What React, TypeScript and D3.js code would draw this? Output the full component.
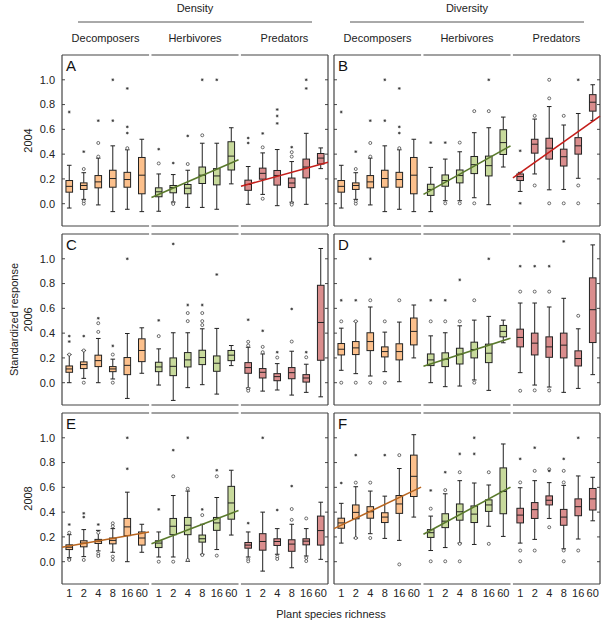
import React from "react";
import * as d3 from "d3";

type Stat = [number, number, number, number, number]; // lo, q1, median, q3, hi

const measures = ["Density", "Diversity"];
const groups = ["Decomposers", "Herbivores", "Predators"];
const richness = ["1", "2", "4", "8", "16", "60"];
const years = ["2004", "2006", "2008"];
const panelLetters = ["A", "B", "C", "D", "E", "F"];
const yTicks = [0, 0.2, 0.4, 0.6, 0.8, 1.0];

// ---------- Panel A (2004, Density)
const statsA: Stat[] = [
  [-0.035, 0.093, 0.14, 0.187, 0.31], [0.035, 0.115, 0.147, 0.168, 0.25], [-0.01, 0.128, 0.176, 0.227, 0.368],
  [-0.064, 0.133, 0.203, 0.27, 0.467], [-0.045, 0.133, 0.195, 0.253, 0.435], [-0.064, 0.08, 0.23, 0.373, 0.52],
  [-0.061, 0.056, 0.096, 0.128, 0.24], [0.013, 0.088, 0.13, 0.147, 0.235], [-0.03, 0.08, 0.125, 0.155, 0.27],
  [-0.03, 0.163, 0.23, 0.296, 0.488], [-0.045, 0.152, 0.224, 0.283, 0.488], [0.16, 0.272, 0.384, 0.5, 0.613],
  [-0.005, 0.108, 0.155, 0.19, 0.3], [0.075, 0.198, 0.245, 0.287, 0.41], [-0.016, 0.15, 0.228, 0.268, 0.437],
  [0.012, 0.13, 0.167, 0.207, 0.34], [-0.005, 0.208, 0.296, 0.36, 0.568], [0.283, 0.32, 0.368, 0.405, 0.45],
];
const circlesA: number[][] = [
  [], [0.02, 0.0, 0.28], [0.38, 0.49], [], [0.448], [],
  [0.325], [0.008, -0.002], [0.32], [0.552], [], [],
  [], [0.455, 0.04], [], [0.38, 0.416, 0.003, -0.008], [], [],
];
const starsA: number[][] = [
  [0.74], [0.42], [0.67], [0.67, 1.0], [0.62, 0.57, 0.93], [],
  [0.44], [0.328], [0.547], [1.0], [1.0], [],
  [0.53, 0.49], [0.567], [0.76, 0.708, 0.648], [0.456], [1.0, 0.93], [],
];
const trendsA: ([number, number] | null)[] = [null, [0.05, 0.355], [0.14, 0.335]];

// ---------- Panel B (2004, Diversity)
const statsB: Stat[] = [
  [-0.035, 0.093, 0.14, 0.187, 0.31], [0.035, 0.115, 0.147, 0.168, 0.25], [-0.01, 0.128, 0.176, 0.227, 0.368],
  [-0.064, 0.133, 0.203, 0.27, 0.467], [-0.045, 0.133, 0.195, 0.253, 0.435], [-0.064, 0.08, 0.23, 0.373, 0.52],
  [-0.064, 0.067, 0.115, 0.157, 0.293], [0.024, 0.141, 0.187, 0.232, 0.36], [0.024, 0.168, 0.227, 0.272, 0.419],
  [0.048, 0.243, 0.315, 0.381, 0.573], [-0.008, 0.224, 0.307, 0.384, 0.613], [0.296, 0.397, 0.493, 0.597, 0.699],
  [0.099, 0.187, 0.219, 0.24, 0.253], [0.24, 0.408, 0.48, 0.52, 0.683], [0.112, 0.36, 0.448, 0.528, 0.784],
  [0.115, 0.304, 0.379, 0.44, 0.635], [0.205, 0.4, 0.467, 0.533, 0.728], [0.672, 0.747, 0.819, 0.88, 0.96],
];
const circlesB: number[][] = [
  [], [0.02, 0.0, 0.28], [0.38, 0.49], [], [0.448], [],
  [], [0.003], [0.003, 0.493], [0.003, 0.747], [0.747], [],
  [], [0.709, 0.147], [0.85, 0.003, 1.0], [0.709, 0.003], [0.147, 0.003], [],
];
const starsB: number[][] = [
  [0.74], [0.42], [0.67], [0.67, 1.0], [0.62, 0.57, 0.93], [],
  [0.493], [0.493], [], [], [1.0], [],
  [0.427, 0.003], [], [], [], [1.0], [],
];
const trendsB: ([number, number] | null)[] = [null, [0.075, 0.467], [0.208, 0.707]];

// ---------- Panel C (2006, Density)
const statsC: Stat[] = [
  [0.0, 0.084, 0.111, 0.135, 0.227], [0.035, 0.114, 0.146, 0.168, 0.26], [0.0, 0.13, 0.178, 0.222, 0.357],
  [0.03, 0.089, 0.111, 0.13, 0.19], [-0.127, 0.065, 0.14, 0.203, 0.397], [0.076, 0.17, 0.26, 0.354, 0.443],
  [-0.019, 0.089, 0.127, 0.165, 0.273], [-0.143, 0.057, 0.132, 0.2, 0.403], [-0.04, 0.127, 0.184, 0.243, 0.403],
  [-0.016, 0.146, 0.203, 0.262, 0.435], [-0.092, 0.092, 0.157, 0.216, 0.438], [0.138, 0.178, 0.222, 0.26, 0.3],
  [-0.043, 0.076, 0.122, 0.162, 0.286], [-0.068, 0.038, 0.084, 0.114, 0.232], [-0.059, 0.016, 0.049, 0.073, 0.154],
  [-0.1, 0.032, 0.081, 0.122, 0.254], [-0.078, 0.005, 0.038, 0.065, 0.149], [-0.114, 0.181, 0.486, 0.786, 1.083],
];
const circlesC: number[][] = [
  [0.227], [0.0, 0.26], [0.41, 0.48], [0.0, 0.227], [], [],
  [0.376], [], [0.497, 0.562], [0.465, 0.497, 0.562], [], [],
  [0.33, 0.3, -0.049, -0.065], [0.289, 0.246], [0.203], [0.332], [0.205], [],
];
const starsC: number[][] = [
  [0.376, 0.332], [0.376], [0.52], [0.297], [1.0], [],
  [0.503], [1.12], [0.627], [0.627], [0.873], [],
  [0.508], [0.419], [0.246], [0.595], [0.246], [],
];
const trendsC: ([number, number] | null)[] = [null, null, null];

// ---------- Panel D (2006, Diversity)
const statsD: Stat[] = [
  [0.1, 0.224, 0.27, 0.316, 0.44], [0.073, 0.227, 0.281, 0.332, 0.495], [0.054, 0.259, 0.332, 0.403, 0.611],
  [0.089, 0.208, 0.251, 0.289, 0.408], [0.008, 0.184, 0.251, 0.314, 0.489], [0.2, 0.305, 0.414, 0.522, 0.627],
  [0.0, 0.138, 0.184, 0.232, 0.378], [-0.032, 0.13, 0.189, 0.241, 0.403], [-0.027, 0.151, 0.23, 0.278, 0.459],
  [0.022, 0.2, 0.268, 0.327, 0.505], [-0.062, 0.162, 0.238, 0.311, 0.535], [0.322, 0.37, 0.414, 0.462, 0.505],
  [0.081, 0.289, 0.365, 0.432, 0.643], [-0.019, 0.224, 0.319, 0.4, 0.643], [-0.035, 0.205, 0.289, 0.37, 0.611],
  [-0.078, 0.2, 0.303, 0.4, 0.681], [-0.046, 0.135, 0.195, 0.257, 0.435], [0.065, 0.324, 0.589, 0.846, 1.112],
];
const circlesD: number[][] = [
  [0.495, 0.0], [0.495, 0.0], [0.0, 0.665], [0.495, 0.0], [0.665], [],
  [0.495], [0.495], [0.495], [0.665, 0.0], [], [],
  [0.735, -0.065], [0.735, -0.062], [0.735, -0.062], [], [0.54], [],
];
const starsD: number[][] = [
  [0.665], [0.665], [1.0], [], [], [],
  [0.665], [0.665], [0.83], [], [1.0], [],
  [0.94], [0.94], [0.94], [1.14], [], [],
];
const trendsD: ([number, number] | null)[] = [null, [0.132, 0.359], null];

// ---------- Panel E (2008, Density)
const statsE: Stat[] = [
  [0.033, 0.098, 0.117, 0.136, 0.218], [0.041, 0.12, 0.15, 0.169, 0.259], [0.087, 0.147, 0.166, 0.18, 0.253],
  [0.076, 0.144, 0.172, 0.191, 0.267], [0.0, 0.21, 0.281, 0.349, 0.561], [0.076, 0.134, 0.191, 0.24, 0.302],
  [0.038, 0.114, 0.15, 0.169, 0.24], [0.038, 0.218, 0.286, 0.349, 0.534], [0.003, 0.218, 0.294, 0.357, 0.57],
  [0.06, 0.158, 0.185, 0.215, 0.302], [0.098, 0.253, 0.313, 0.357, 0.518], [0.215, 0.343, 0.474, 0.608, 0.738],
  [0.038, 0.109, 0.134, 0.155, 0.24], [-0.076, 0.093, 0.163, 0.226, 0.4], [0.06, 0.131, 0.163, 0.185, 0.267],
  [-0.049, 0.084, 0.142, 0.177, 0.302], [0.046, 0.136, 0.166, 0.185, 0.267], [0.019, 0.134, 0.251, 0.368, 0.48],
];
const circlesE: number[][] = [
  [0.234, 0.022, 0.014], [0.014], [0.234, 0.063, 0.046], [0.31, 0.286, 0.041, 0.014], [], [],
  [0.0], [0.0, 0.689], [0.589, 0.014], [0.376, 0.054], [0.049, 0.689], [],
  [0.019, 0.003], [], [0.041, 0.022], [0.425, 0.338], [0.03, 0.005, 0.349], [],
];
const starsE: number[][] = [
  [0.3], [0.39, 0.36], [0.3], [], [0.75, 1.0], [],
  [0.422], [0.9], [1.0], [0.422], [0.738], [],
  [0.311], [1.0], [0.417], [0.61], [], [],
];
const trendsE: ([number, number] | null)[] = [[0.117, 0.24], [0.144, 0.414], null];

// ---------- Panel F (2008, Diversity)
const statsF: Stat[] = [
  [0.15, 0.27, 0.313, 0.351, 0.471], [0.191, 0.346, 0.398, 0.458, 0.605], [0.226, 0.351, 0.403, 0.444, 0.57],
  [0.188, 0.316, 0.36, 0.395, 0.529], [0.172, 0.39, 0.466, 0.534, 0.752], [0.36, 0.526, 0.689, 0.86, 1.025],
  [0.09, 0.196, 0.234, 0.259, 0.368], [0.114, 0.275, 0.327, 0.387, 0.548], [0.15, 0.335, 0.403, 0.466, 0.654],
  [0.139, 0.316, 0.384, 0.45, 0.635], [0.286, 0.406, 0.458, 0.499, 0.619], [0.204, 0.387, 0.567, 0.757, 0.95],
  [0.15, 0.313, 0.376, 0.431, 0.597], [0.18, 0.349, 0.42, 0.477, 0.654], [0.349, 0.458, 0.496, 0.531, 0.638],
  [0.104, 0.294, 0.36, 0.422, 0.616], [0.183, 0.371, 0.444, 0.507, 0.692], [0.33, 0.417, 0.507, 0.591, 0.681],
];
const circlesF: number[][] = [
  [], [0.638, 0.191], [0.638, 0.191], [], [-0.022, 0.86], [],
  [0.428, 0.003], [0.578, 0.003], [0.722, 0.003, 0.144], [], [0.722, 0.144], [],
  [0.64, 0.09, 0.003], [0.733, 0.09], [0.278, 0.745], [0.733, 0.64, 0.09, 0.003], [0.09], [],
];
const starsF: number[][] = [
  [0.635], [0.86], [], [0.86], [], [],
  [0.575], [0.722], [0.87], [0.87, 1.0], [], [],
  [0.83], [0.92], [0.733], [0.83], [1.0], [],
];
const trendsF: ([number, number] | null)[] = [[0.267, 0.602], [0.221, 0.602], null];

const panels = [
  { stats: statsA, circles: circlesA, stars: starsA, trends: trendsA },
  { stats: statsB, circles: circlesB, stars: starsB, trends: trendsB },
  { stats: statsC, circles: circlesC, stars: starsC, trends: trendsC },
  { stats: statsD, circles: circlesD, stars: starsD, trends: trendsD },
  { stats: statsE, circles: circlesE, stars: starsE, trends: trendsE },
  { stats: statsF, circles: circlesF, stars: starsF, trends: trendsF },
];

const fills = ["#FCC08C", "#C8DA9C", "#DA8D8D"];
const trendColors = ["#B8651F", "#5A7A2C", "#C41E1A"];

const W = 603, H = 623;
const colX = [62, 334];
const PW = 266;
const rowY = [55, 234, 413];
const PH = 171;
const GAP = 2.4;
const GW = (PW - 2 * GAP) / 3;
const FONT = "'Liberation Sans', Arial, sans-serif";
const INK = "#222";

function Star({ x, y }: { x: number; y: number }) {
  const r = 1.4;
  return (
    <g stroke="#333" strokeWidth={0.7}>
      <line x1={x - r} x2={x + r} y1={y} y2={y} />
      <line x1={x} x2={x} y1={y - r} y2={y + r} />
      <line x1={x - r * 0.7} x2={x + r * 0.7} y1={y - r * 0.7} y2={y + r * 0.7} />
      <line x1={x - r * 0.7} x2={x + r * 0.7} y1={y + r * 0.7} y2={y - r * 0.7} />
    </g>
  );
}

function Panel({ idx }: { idx: number }) {
  const col = idx % 2;
  const row = Math.floor(idx / 2);
  const left = colX[col];
  const top = rowY[row];
  const right = left + PW;
  const bottom = top + PH;
  const y = d3.scaleLinear().domain([-0.18, 1.2]).range([bottom, top]);
  const p = panels[idx];
  const bandStart = (g: number) => left + g * (GW + GAP);
  const xs = groups.map((_, g) =>
    d3.scaleBand<string>().domain(richness).range([bandStart(g), bandStart(g) + GW]).padding(0)
  );
  const bw = 6.6, cw = 4.6;
  return (
    <g>
      {/* frame */}
      <line x1={left} x2={left} y1={top} y2={bottom} stroke="#333" strokeWidth={1.1} />
      <line x1={right} x2={right} y1={top} y2={bottom} stroke="#333" strokeWidth={1.1} />
      {groups.map((_, g) => {
        const x0 = g === 0 ? left : bandStart(g);
        const x1 = g === 2 ? right : bandStart(g) + GW;
        return (
          <g key={g} stroke="#444" strokeWidth={1.1}>
            <line x1={x0} x2={x1} y1={top} y2={top} />
            <line x1={x0} x2={x1} y1={bottom} y2={bottom} />
          </g>
        );
      })}
      {yTicks.map((t) => (
        <g key={t} stroke="#333" strokeWidth={0.9}>
          <line x1={left} x2={left + 3} y1={y(t)} y2={y(t)} />
          <line x1={right - 3} x2={right} y1={y(t)} y2={y(t)} />
        </g>
      ))}
      {col === 0 &&
        yTicks.map((t) => (
          <text key={t} x={left - 7} y={y(t)} dy="0.35em" textAnchor="end" fontSize={11} fontFamily={FONT} fill="#222">
            {t.toFixed(1)}
          </text>
        ))}
      <text x={left + 4} y={top + 16} fontSize={15} fontFamily={FONT} fill="#111">
        {panelLetters[idx]}
      </text>
      {/* boxes */}
      {p.stats.map((s, i) => {
        const g = Math.floor(i / 6);
        const k = i % 6;
        const sc = xs[g];
        const cx = (sc(richness[k]) as number) + sc.bandwidth() / 2;
        const [lo, q1, md, q3, hi] = s;
        return (
          <g key={i}>
            <g stroke={INK} strokeWidth={1}>
              <line x1={cx} x2={cx} y1={y(lo)} y2={y(q1)} />
              <line x1={cx} x2={cx} y1={y(q3)} y2={y(hi)} />
              <line x1={cx - cw / 2} x2={cx + cw / 2} y1={y(lo)} y2={y(lo)} />
              <line x1={cx - cw / 2} x2={cx + cw / 2} y1={y(hi)} y2={y(hi)} />
            </g>
            <rect x={cx - bw / 2} y={y(q3)} width={bw} height={Math.max(0.5, y(q1) - y(q3))} fill={fills[g]} stroke={INK} strokeWidth={1} />
            <line x1={cx - bw / 2} x2={cx + bw / 2} y1={y(md)} y2={y(md)} stroke={INK} strokeWidth={1} />
            {p.circles[i].map((v, j) => (
              <circle key={"c" + j} cx={cx} cy={y(v)} r={1.5} fill="white" stroke="#333" strokeWidth={0.7} />
            ))}
            {p.stars[i].map((v, j) => (
              <Star key={"s" + j} x={cx} y={y(v)} />
            ))}
          </g>
        );
      })}
      {/* trend lines */}
      {p.trends.map((t, g) => {
        if (!t) return null;
        const x0 = g === 0 ? left : bandStart(g);
        const x1 = g === 2 ? right : bandStart(g) + GW;
        const line = d3.line<[number, number]>().x((d) => d[0]).y((d) => y(d[1]));
        return (
          <path key={g} d={line([[x0, t[0]], [x1, t[1]]]) || ""} stroke={trendColors[g]} strokeWidth={1.6} fill="none" />
        );
      })}
      {/* x tick labels */}
      {row === 2 &&
        groups.map((_, g) =>
          richness.map((r) => (
            <text
              key={g + r}
              x={(xs[g](r) as number) + xs[g].bandwidth() / 2}
              y={bottom + 13}
              textAnchor="middle"
              fontSize={11}
              fontFamily={FONT}
              fill="#222"
            >
              {r}
            </text>
          ))
        )}
    </g>
  );
}

export default function App() {
  return (
    <svg width={W} height={H} style={{ position: "absolute", left: 0, top: 0, background: "white" }}>
      <rect width={W} height={H} fill="white" />
      {/* header */}
      {measures.map((m, c) => {
        const cx = colX[c] + PW / 2;
        return (
          <g key={m}>
            <text x={cx} y={12} textAnchor="middle" fontSize={11} fontFamily={FONT} fill="#222">
              {m}
            </text>
            <line x1={cx - 117} x2={cx + 117} y1={22} y2={22} stroke="#555" strokeWidth={1} />
            {groups.map((g, gi) => (
              <text
                key={g}
                x={colX[c] + gi * (GW + GAP) + GW / 2}
                y={42}
                textAnchor="middle"
                fontSize={11}
                fontFamily={FONT}
                fill="#222"
              >
                {g}
              </text>
            ))}
          </g>
        );
      })}
      {years.map((yr, r) => (
        <text
          key={yr}
          transform={`translate(32,${rowY[r] + PH / 2}) rotate(-90)`}
          textAnchor="middle"
          fontSize={11}
          fontFamily={FONT}
          fill="#222"
        >
          {yr}
        </text>
      ))}
      <text
        transform={`translate(18,${rowY[1] + PH / 2}) rotate(-90)`}
        textAnchor="middle"
        fontSize={11}
        fontFamily={FONT}
        fill="#222"
      >
        Standardized response
      </text>
      {panels.map((_, i) => (
        <Panel key={i} idx={i} />
      ))}
      <text x={(colX[0] + colX[1] + PW) / 2} y={618} textAnchor="middle" fontSize={11} fontFamily={FONT} fill="#222">
        Plant species richness
      </text>
    </svg>
  );
}
